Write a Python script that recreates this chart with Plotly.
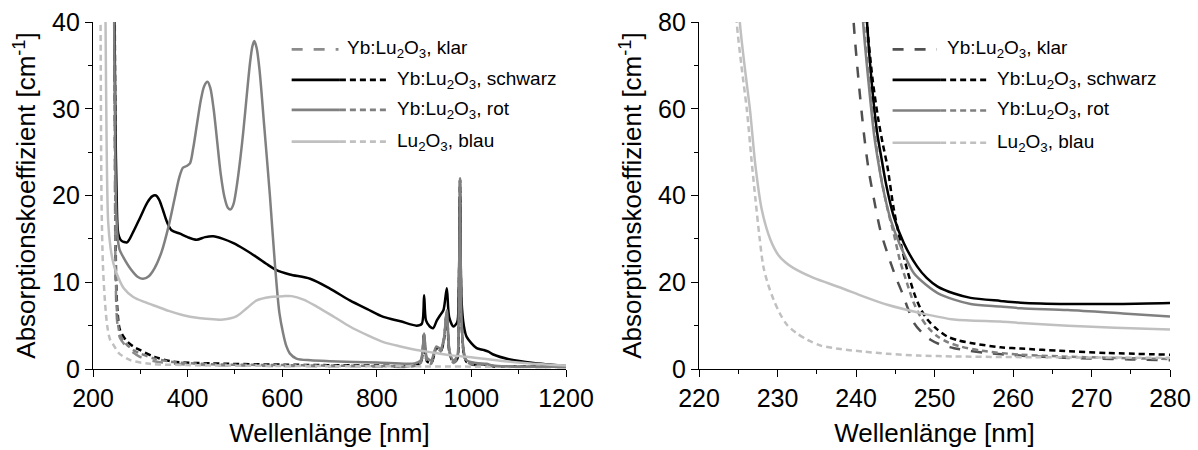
import plotly.graph_objects as go

# ---------------- Left panel data (200-1200 nm) ----------------
wl_klar_L = [241, 243, 245, 246.5, 248, 251, 257, 270, 285, 299, 330, 370, 450, 600, 800, 880, 893, 900, 906, 915, 926, 935, 942, 948, 954, 962, 970, 973, 976, 979, 984, 990, 1010, 1032, 1045, 1100, 1200]
ab_klar_L = [80, 60, 40, 20, 10, 5.5, 3.6, 2.6, 1.9, 1.4, 0.9, 0.6, 0.45, 0.35, 0.3, 0.3, 0.7, 4.0, 0.8, 0.6, 2.3, 2.0, 3.3, 6.4, 1.7, 0.7, 1.1, 6.0, 21.8, 6.0, 1.7, 0.7, 0.45, 0.45, 0.3, 0.25, 0.2]

wl_schwarz_L = [241, 243, 245.5, 247.5, 250, 253.5, 260, 272, 285, 300, 315, 325, 333, 340, 348, 356, 366, 384, 400, 419, 437, 454, 475, 497, 520, 546, 570, 588, 616, 659, 700, 743, 780, 814, 850, 884, 895, 900, 904, 912, 919, 927, 934, 941, 948, 953, 962, 970, 973, 976, 979, 984, 990, 1011, 1025, 1036, 1045, 1082, 1131, 1200]
ab_schwarz_L = [80, 60, 40, 28, 20, 15.6, 14.8, 14.6, 15.8, 17.5, 19.2, 19.9, 20.0, 19.5, 18.3, 17.0, 16.0, 15.6, 15.2, 14.9, 15.2, 15.3, 15.0, 14.5, 13.8, 12.9, 12.0, 11.4, 10.9, 10.4, 9.3, 7.9, 6.9, 6.0, 5.5, 5.0, 5.2, 8.5, 5.6, 4.9, 4.7, 5.6, 6.2, 6.8, 9.3, 6.0, 4.9, 5.4, 8.0, 20.0, 8.0, 5.0, 3.7, 2.4, 2.2, 2.0, 1.7, 1.1, 0.7, 0.35]
wl_schwarz_dash_L = [242, 244, 246, 247.5, 249, 252, 257, 270, 285, 299, 330, 370, 450, 600, 800, 880, 893, 900, 906, 915, 926, 935, 942, 948, 954, 962, 970, 973, 976, 979, 984, 990, 1010, 1032, 1045, 1100, 1200]
ab_schwarz_dash_L = [80, 60, 40, 20, 10, 6.5, 4.5, 3.3, 2.6, 2.2, 1.4, 0.85, 0.65, 0.5, 0.4, 0.4, 0.8, 4.0, 0.9, 0.7, 2.4, 2.1, 3.4, 6.5, 1.8, 0.8, 1.2, 6.0, 21.8, 6.0, 1.8, 0.8, 0.5, 0.5, 0.35, 0.3, 0.25]

wl_rot_L = [240, 242, 244, 245.5, 247, 249, 252, 256, 264, 280, 295, 306, 318, 330, 345, 360, 372, 382, 390, 398, 405, 412, 420, 428, 435, 442, 448, 455, 462, 470, 478, 485, 491, 497, 505, 512, 518, 525, 532, 537, 541, 546, 552, 562, 574, 585, 594, 602, 609, 616, 630, 660, 700, 800, 880, 893, 900, 906, 915, 926, 935, 942, 948, 954, 962, 970, 973, 976, 979, 984, 990, 1010, 1032, 1045, 1080, 1200]
ab_rot_L = [80, 60, 45, 35, 25, 18.5, 15.2, 13.8, 12.9, 11.5, 10.6, 10.4, 10.7, 11.6, 13.5, 16.5, 19.5, 22.0, 23.2, 23.4, 23.7, 25.5, 28.3, 31.0, 32.6, 33.1, 32.4, 30.0, 26.5, 22.5, 19.8, 18.6, 18.4, 19.0, 21.5, 24.5, 27.5, 31.5, 35.3, 37.2, 37.8, 37.0, 34.5, 28.0, 20.0, 11.8, 6.5, 4.1, 2.6, 1.8, 1.2, 1.0, 0.9, 0.75, 0.65, 1.0, 4.1, 1.3, 1.0, 2.6, 2.3, 3.6, 6.8, 2.0, 1.0, 1.5, 6.0, 22.0, 6.0, 2.0, 1.0, 0.7, 0.6, 0.4, 0.3, 0.25]
wl_rot_dash_L = [242, 243.5, 245.5, 247, 248.5, 251.5, 257, 270, 285, 299, 330, 370, 450, 600, 800, 880, 893, 900, 906, 915, 926, 935, 942, 948, 954, 962, 970, 973, 976, 979, 984, 990, 1010, 1032, 1045, 1100, 1200]
ab_rot_dash_L = [80, 60, 40, 20, 10, 6.0, 4.0, 2.9, 2.2, 1.8, 1.2, 0.8, 0.55, 0.45, 0.35, 0.35, 0.8, 4.0, 0.9, 0.7, 2.4, 2.1, 3.4, 6.5, 1.8, 0.8, 1.2, 6.0, 21.8, 6.0, 1.8, 0.8, 0.5, 0.5, 0.35, 0.3, 0.25]

wl_blau_L = [222, 224, 226.5, 229, 232, 237, 243, 250, 265, 285, 310, 335, 360, 391, 420, 440, 475, 504, 525, 546, 575, 602, 620, 645, 673, 710, 743, 780, 814, 850, 884, 919, 955, 990, 1060, 1130, 1200]
ab_blau_L = [80, 60, 40, 25, 17, 14, 12.2, 11.0, 9.3, 8.3, 7.7, 7.2, 6.7, 6.2, 5.9, 5.8, 5.7, 6.1, 7.0, 7.9, 8.3, 8.4, 8.4, 8.0, 7.2, 6.0, 4.9, 3.9, 3.1, 2.6, 2.2, 1.9, 1.6, 1.4, 0.95, 0.6, 0.4]
wl_blau_dash_L = [212, 214, 216, 218, 221, 225, 230, 236, 243, 255, 280, 320, 400, 600, 900, 1200]
ab_blau_dash_L = [80, 60, 40, 19.5, 12, 8.0, 5.0, 3.4, 2.8, 1.8, 1.0, 0.6, 0.45, 0.35, 0.3, 0.2]

# ---------------- Right panel data (220-280 nm) ----------------
wl_klar_R = [239.3, 239.7, 240.3, 241.0, 241.6, 242.3, 243.1, 244.0, 245.0, 245.9, 246.6, 247.4, 248.4, 249.5, 250.8, 252.5, 254.5, 256.7, 260, 265, 270, 275, 280]
ab_klar_R = [95, 80, 67, 54.4, 46, 39.0, 32, 26.7, 21.5, 17.5, 14, 10.6, 8.4, 6.75, 5.6, 4.8, 4.2, 3.7, 3.2, 2.7, 2.4, 2.2, 2.0]

wl_schwarz_R = [241.0, 241.4, 242.0, 242.7, 243.3, 243.8, 244.8, 246.1, 247.8, 249, 250.4, 252.5, 254.6, 258.4, 261, 267, 274, 280]
ab_schwarz_R = [95, 80, 66, 54.4, 48.0, 42.9, 35.2, 29.0, 23.6, 21.0, 19.0, 17.4, 16.4, 15.7, 15.3, 15.0, 15.0, 15.2]
wl_schwarz_dash_R = [241.0, 241.4, 242.1, 242.8, 243.4, 244.0, 244.8, 245.7, 246.5, 247.4, 248.2, 249.1, 250.3, 251.6, 253, 254.6, 258.4, 261, 266, 272, 280]
ab_schwarz_dash_R = [95, 80, 67, 58, 52, 46.7, 37, 29.0, 23, 17.5, 14, 11.4, 9.2, 7.5, 6.6, 6.0, 5.0, 4.7, 4.2, 3.7, 3.3]

wl_rot_R = [240.5, 240.9, 241.6, 242.3, 242.9, 243.4, 244.4, 245.7, 247.4, 249, 250.4, 252.5, 254.6, 258.4, 261, 267, 274, 280]
ab_rot_R = [95, 80, 66, 54, 47, 42, 34.5, 28.2, 22.0, 19.3, 17.5, 16.0, 15.0, 14.4, 14.0, 13.6, 12.8, 12.1]
wl_rot_dash_R = [240.6, 241.0, 241.7, 242.4, 243.1, 244.0, 244.8, 245.6, 246.5, 247.3, 248.2, 249.2, 250.4, 251.8, 253.3, 256, 261, 266, 272, 280]
ab_rot_dash_R = [95, 80, 66, 54, 45.2, 37, 31.3, 25, 19.8, 15.5, 12.1, 9.5, 7.5, 6.1, 5.2, 4.2, 3.3, 2.9, 2.6, 2.3]

wl_blau_R = [224.8, 225.2, 225.8, 226.5, 227.2, 228.0, 229.1, 230.1, 231, 232.0, 234.6, 238, 241, 244, 248.2, 252.5, 258.4, 261, 267, 273, 280]
ab_blau_R = [95, 80, 70, 59.7, 46.7, 36.7, 29.8, 26.3, 24.6, 23.3, 21.0, 18.8, 16.7, 14.8, 12.9, 11.4, 10.95, 10.6, 10.0, 9.5, 9.1]
wl_blau_dash_R = [224.4, 224.8, 225.4, 226.1, 226.7, 227.2, 227.7, 228.2, 228.8, 229.5, 230.3, 231.2, 232.4, 233.8, 235.5, 238, 241, 244, 248, 252.5, 260, 270, 280]
ab_blau_dash_R = [95, 80, 70, 59.7, 48, 39.0, 30.5, 23.6, 19.5, 16.0, 12.8, 10.2, 8.3, 6.75, 5.4, 4.6, 4.0, 3.5, 3.1, 2.9, 2.75, 2.65, 2.6]

legend_labels = ["Yb:Lu<sub>2</sub>O<sub>3</sub>, klar",
                 "Yb:Lu<sub>2</sub>O<sub>3</sub>, schwarz",
                 "Yb:Lu<sub>2</sub>O<sub>3</sub>, rot",
                 "Lu<sub>2</sub>O<sub>3</sub>, blau"]

C_BLACK = "#000000"
C_ROT = "#808080"
C_BLAU = "#c0c0c0"
C_KLAR_L = "#8c8c8c"
C_KLAR_R = "#505050"
DASH_SHORT = "6px,4px"
DASH_LONG = "11px,11px"
FONT = "Arial, Liberation Sans, sans-serif"

fig = go.Figure()


def add(x, y, color, dash, xa, ya, width=2.5, shape="spline"):
    fig.add_trace(go.Scatter(x=x, y=y, mode="lines",
                             line=dict(color=color, width=width, dash=dash, shape=shape, smoothing=0.8),
                             xaxis=xa, yaxis=ya, showlegend=False, hoverinfo="skip"))


# left panel
add(wl_klar_L, ab_klar_L, C_KLAR_L, DASH_LONG, "x", "y")
add(wl_schwarz_dash_L, ab_schwarz_dash_L, C_BLACK, DASH_SHORT, "x", "y")
add(wl_rot_dash_L, ab_rot_dash_L, C_ROT, DASH_SHORT, "x", "y")
add(wl_blau_dash_L, ab_blau_dash_L, C_BLAU, DASH_SHORT, "x", "y")
add(wl_schwarz_L, ab_schwarz_L, C_BLACK, "solid", "x", "y")
add(wl_rot_L, ab_rot_L, C_ROT, "solid", "x", "y")
add(wl_blau_L, ab_blau_L, C_BLAU, "solid", "x", "y")

# right panel
add(wl_klar_R, ab_klar_R, C_KLAR_R, DASH_LONG, "x2", "y2")
add(wl_schwarz_dash_R, ab_schwarz_dash_R, C_BLACK, DASH_SHORT, "x2", "y2")
add(wl_rot_dash_R, ab_rot_dash_R, C_ROT, DASH_SHORT, "x2", "y2")
add(wl_blau_dash_R, ab_blau_dash_R, C_BLAU, DASH_SHORT, "x2", "y2")
add(wl_schwarz_R, ab_schwarz_R, C_BLACK, "solid", "x2", "y2")
add(wl_rot_R, ab_rot_R, C_ROT, "solid", "x2", "y2")
add(wl_blau_R, ab_blau_R, C_BLAU, "solid", "x2", "y2")

W, H = 1198, 450
ML, MR, MT, MB = 93, 28, 22, 81
PW = W - ML - MR
left_dom = [0, (566 - ML) / PW]
right_dom = [(699 - ML) / PW, 1.0]

base = dict(showgrid=False, zeroline=False, showline=True, linecolor="black", linewidth=1.3,
            ticks="outside", ticklen=7, tickwidth=1.3, tickcolor="black",
            tickfont=dict(family=FONT, size=25, color="black"), automargin=False)
mirror = dict(showgrid=False, zeroline=False, showline=True, linecolor="black", linewidth=1.3,
              ticks="inside", ticklen=7, tickwidth=1.3, tickcolor="black",
              showticklabels=False, automargin=False)
title_font = dict(family=FONT, size=26, color="black")
ytitle = "Absorptionskoeffizient [cm<sup>-1</sup>]"

fig.update_layout(
    width=W, height=H, margin=dict(l=ML, r=MR, t=MT, b=MB),
    paper_bgcolor="white", plot_bgcolor="white", showlegend=False,
    xaxis=dict(base, domain=left_dom, range=[200, 1200], anchor="y", dtick=200, tick0=200,
               minor=dict(dtick=100, ticklen=4, ticks="outside", tickcolor="black", tickwidth=1.3),
               title=dict(text="Wellenlänge [nm]", font=title_font, standoff=12)),
    yaxis=dict(base, domain=[0, 1], range=[0, 40], anchor="x", dtick=10,
               minor=dict(dtick=5, ticklen=4, ticks="outside", tickcolor="black", tickwidth=1.3),
               title=dict(text=ytitle, font=title_font, standoff=8)),
    xaxis2=dict(base, domain=right_dom, range=[220, 280], anchor="y2", dtick=10, tick0=220,
                minor=dict(dtick=5, ticklen=4, ticks="outside", tickcolor="black", tickwidth=1.3),
                title=dict(text="Wellenlänge [nm]", font=title_font, standoff=12)),
    yaxis2=dict(base, domain=[0, 1], range=[0, 80], anchor="x2", dtick=20,
                minor=dict(dtick=10, ticklen=4, ticks="outside", tickcolor="black", tickwidth=1.3),
                title=dict(text=ytitle, font=title_font, standoff=8)),
    xaxis3=dict(mirror, overlaying="x", anchor="y", side="top", range=[200, 1200], dtick=200, tick0=200,
                minor=dict(dtick=100, ticklen=4, ticks="inside", tickcolor="black", tickwidth=1.3)),
    yaxis3=dict(mirror, overlaying="y", anchor="x", side="right", range=[0, 40], dtick=10,
                minor=dict(dtick=5, ticklen=4, ticks="inside", tickcolor="black", tickwidth=1.3)),
    xaxis4=dict(mirror, overlaying="x2", anchor="y2", side="top", range=[220, 280], dtick=10, tick0=220,
                minor=dict(dtick=5, ticklen=4, ticks="inside", tickcolor="black", tickwidth=1.3)),
    yaxis4=dict(mirror, overlaying="y2", anchor="x2", side="right", range=[0, 80], dtick=20,
                minor=dict(dtick=10, ticklen=4, ticks="inside", tickcolor="black", tickwidth=1.3)),
)

# hand-built legends (solid + dashed sample lines per entry)
legend_rows_L = [0.921, 0.833, 0.747, 0.655]
legend_rows_R = [0.921, 0.833, 0.745, 0.652]
colors_L = [C_KLAR_L, C_BLACK, C_ROT, C_BLAU]
colors_R = [C_KLAR_R, C_BLACK, C_ROT, C_BLAU]

panels = [
    ("x domain", "y domain", legend_rows_L, colors_L, 0.420, 0.522, 0.624, 0.519, 0.533, 0.638),
    ("x2 domain", "y2 domain", legend_rows_R, colors_R, 0.411, 0.512, 0.618, 0.505, 0.522, 0.628),
]
shapes = []
annotations = []
for xr, yr, rows, cols, x0, xmid, x1, xk, txk, tx in panels:
    for i, (lab, yv, col) in enumerate(zip(legend_labels, rows, cols)):
        if i == 0:
            shapes.append(dict(type="line", xref=xr, yref=yr, x0=x0, x1=xk, y0=yv, y1=yv,
                               line=dict(color=col, width=2.7, dash=DASH_LONG)))
            tpos = txk
        else:
            shapes.append(dict(type="line", xref=xr, yref=yr, x0=x0, x1=xmid, y0=yv, y1=yv,
                               line=dict(color=col, width=2.7, dash="solid")))
            shapes.append(dict(type="line", xref=xr, yref=yr, x0=xmid, x1=x1, y0=yv, y1=yv,
                               line=dict(color=col, width=2.7, dash=DASH_SHORT)))
            tpos = tx
        annotations.append(dict(xref=xr, yref=yr, x=tpos, y=yv, text=lab, showarrow=False,
                                xanchor="left", yanchor="middle",
                                font=dict(family=FONT, size=19, color="black")))

fig.update_layout(shapes=shapes, annotations=annotations)

fig.write_html("out.html")
